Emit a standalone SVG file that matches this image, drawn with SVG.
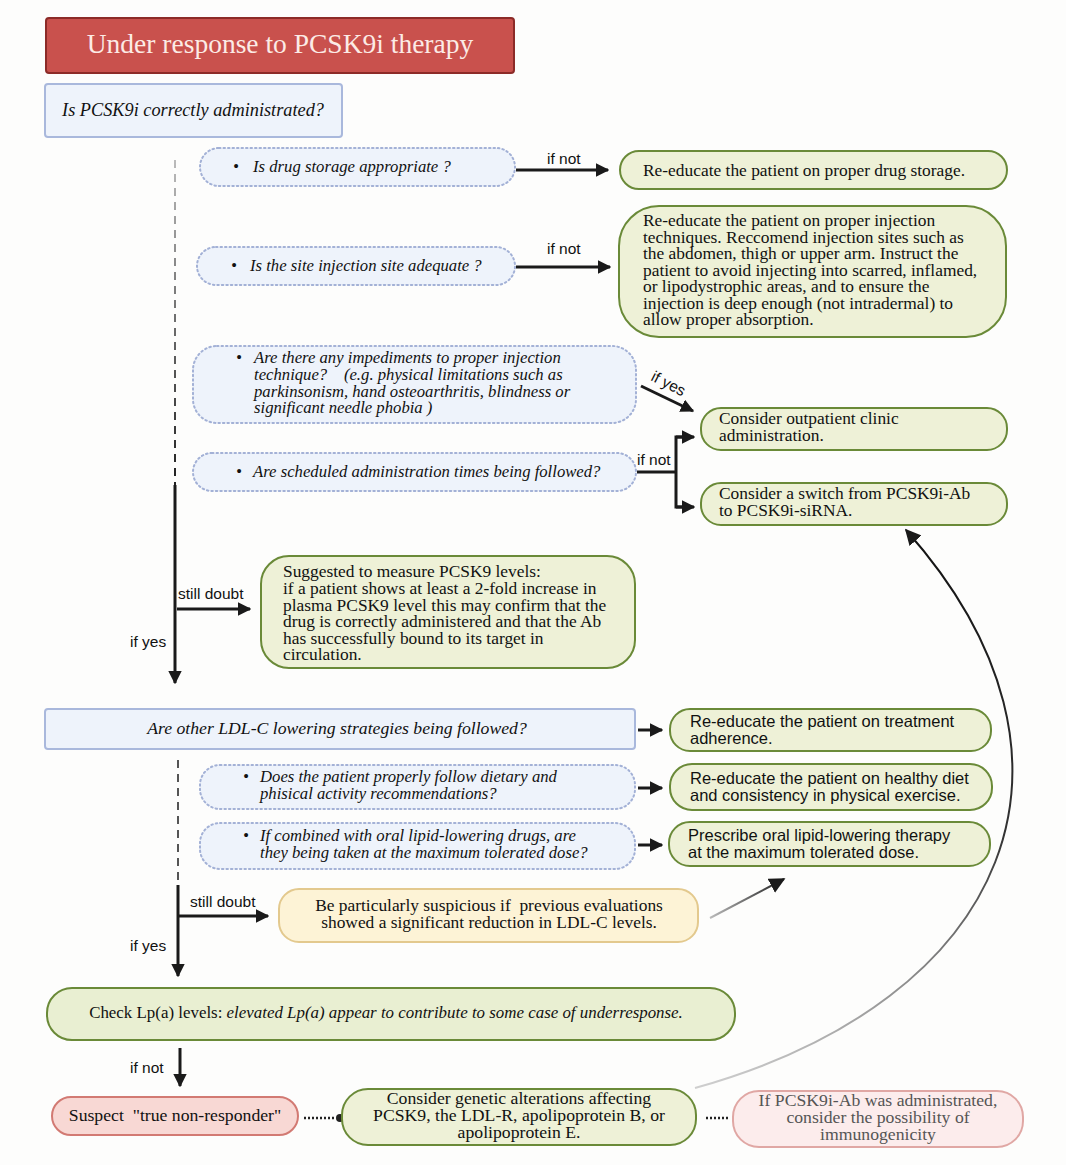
<svg xmlns="http://www.w3.org/2000/svg" width="1066" height="1165" viewBox="0 0 1066 1165">
<defs>
<style>
.serif{font-family:"Liberation Serif","Times New Roman",serif;font-size:17.4px;fill:#111}
.it{font-family:"Liberation Serif","Times New Roman",serif;font-style:italic;font-size:16.7px;fill:#111;white-space:pre}
.sans{font-family:"Liberation Sans",Arial,sans-serif;font-size:15.5px;fill:#111}
.sans16{font-family:"Liberation Sans",Arial,sans-serif;font-size:16.5px;fill:#111}
.bot{font-family:"Liberation Serif","Times New Roman",serif;font-size:17.7px;fill:#111}
.q{fill:#eef3fb;stroke:#a9b8dc;stroke-width:2}
.dq{fill:#eef3fb;stroke:#a3b1d6;stroke-width:2;stroke-dasharray:1.5 3;stroke-linecap:round}
.g{fill:#eef1d7;stroke:#6a8a38;stroke-width:2}
.ln{stroke:#1a1a1a;stroke-width:3;fill:none}
.dot{stroke:#222;stroke-width:2.5;fill:none;stroke-dasharray:2 2}
</style>
<marker id="ah" viewBox="0 0 10 10" refX="9" refY="5" markerWidth="4.5" markerHeight="4.5" orient="auto" markerUnits="strokeWidth"><path d="M0,0 L10,5 L0,10 z" fill="#1a1a1a"/></marker>
<marker id="ah2" viewBox="0 0 10 10" refX="9" refY="5" markerWidth="8" markerHeight="8" orient="auto" markerUnits="strokeWidth"><path d="M0,0 L10,5 L0,10 z" fill="#1a1a1a"/></marker>
<linearGradient id="vfade1" gradientUnits="userSpaceOnUse" x1="0" y1="160" x2="0" y2="690"><stop offset="0" stop-color="#bbb"/><stop offset="0.6" stop-color="#222"/><stop offset="1" stop-color="#111"/></linearGradient>
<linearGradient id="cfade" gradientUnits="userSpaceOnUse" x1="0" y1="1090" x2="0" y2="525"><stop offset="0" stop-color="#d0d0d0"/><stop offset="0.45" stop-color="#333"/><stop offset="1" stop-color="#111"/></linearGradient>
<linearGradient id="sfade" gradientUnits="userSpaceOnUse" x1="710" y1="0" x2="790" y2="0"><stop offset="0" stop-color="#bbb"/><stop offset="1" stop-color="#111"/></linearGradient>
</defs>
<rect x="0" y="0" width="1066" height="1165" fill="#fdfdfc"/>

<g id="connectors">
<line x1="175" y1="160" x2="175" y2="485" stroke="url(#vfade1)" stroke-width="2" stroke-dasharray="8 6"/>
<line x1="175" y1="485" x2="175" y2="683" class="ln" marker-end="url(#ah)"/>
<line x1="177" y1="609" x2="250" y2="609" class="ln" marker-end="url(#ah)"/>
<line x1="516" y1="170" x2="608" y2="170" class="ln" marker-end="url(#ah)"/>
<line x1="516" y1="267" x2="610" y2="267" class="ln" marker-end="url(#ah)"/>
<line x1="641" y1="386" x2="693" y2="411" class="ln" marker-end="url(#ah)"/>
<polyline points="637,472 676,472" class="ln"/>
<polyline points="686,437 676,437 676,507 686,507" class="ln"/>
<line x1="676" y1="437" x2="694" y2="437" class="ln" marker-end="url(#ah)"/>
<line x1="676" y1="507" x2="694" y2="507" class="ln" marker-end="url(#ah)"/>
<line x1="638" y1="730" x2="662" y2="730" class="ln" marker-end="url(#ah)"/>
<line x1="638" y1="788" x2="662" y2="788" class="ln" marker-end="url(#ah)"/>
<line x1="638" y1="845" x2="662" y2="845" class="ln" marker-end="url(#ah)"/>
<line x1="178" y1="760" x2="178" y2="890" stroke="#555" stroke-width="2" stroke-dasharray="8 6"/>
<line x1="178" y1="885" x2="178" y2="976" class="ln" marker-end="url(#ah)"/>
<line x1="178" y1="916" x2="268" y2="916" class="ln" marker-end="url(#ah)"/>
<line x1="710" y1="918" x2="784" y2="879" stroke="url(#sfade)" stroke-width="2" marker-end="url(#ah2)"/>
<line x1="180" y1="1048" x2="180" y2="1086" class="ln" marker-end="url(#ah)"/>
<line x1="304" y1="1118" x2="336" y2="1118" class="dot"/>
<circle cx="340" cy="1118" r="4" fill="#222"/>
<line x1="706" y1="1118" x2="728" y2="1118" class="dot"/>
<path d="M695,1088 C1010,1000 1110,760 906,530" stroke="url(#cfade)" stroke-width="2" fill="none" marker-end="url(#ah2)"/>
<text x="547" y="164" class="sans">if not</text>
<text x="547" y="254" class="sans">if not</text>
<text x="0" y="0" class="sans" transform="translate(650,380) rotate(27)">if yes</text>
<text x="637" y="465" class="sans">if not</text>
<text x="178" y="599" class="sans">still doubt</text>
<text x="130" y="647" class="sans">if yes</text>
<text x="190" y="907" class="sans">still doubt</text>
<text x="130" y="951" class="sans">if yes</text>
<text x="130" y="1073" class="sans">if not</text>
</g>

<g id="title">
<rect x="46" y="18" width="468" height="55" rx="3" fill="#c9514d" stroke="#8c2b28" stroke-width="2"/>
<text x="280" y="53" text-anchor="middle" font-family="Liberation Serif,serif" font-size="27.5" fill="#fcebe6">Under response to PCSK9i therapy</text>
</g>

<g id="q1">
<rect x="45" y="84" width="297" height="53" rx="3" class="q"/>
<text x="193" y="116" text-anchor="middle" class="it" style="font-size:18.3px">Is PCSK9i correctly administrated?</text>
</g>

<g id="q1a">
<rect x="200" y="148" width="315" height="38" rx="19" class="dq"/>
<text y="172" class="it"><tspan x="233">•</tspan><tspan x="253">Is drug storage appropriate ?</tspan></text>
</g>
<g id="q1b">
<rect x="197" y="247" width="318" height="38" rx="19" class="dq"/>
<text y="271" class="it"><tspan x="231">•</tspan><tspan x="250">Is the site injection site adequate ?</tspan></text>
</g>
<g id="q1c">
<rect x="193" y="346" width="443" height="77" rx="24" class="dq"/>
<text class="it"><tspan x="236" y="363">•</tspan><tspan x="254" y="363">Are there any impediments to proper injection</tspan><tspan x="254" y="380">technique?    (e.g. physical limitations such as</tspan><tspan x="254" y="397">parkinsonism, hand osteoarthritis, blindness or</tspan><tspan x="254" y="413">significant needle phobia )</tspan></text>
</g>
<g id="q1d">
<rect x="193" y="453" width="443" height="38" rx="19" class="dq"/>
<text y="477" class="it"><tspan x="236">•</tspan><tspan x="253">Are scheduled administration times being followed?</tspan></text>
</g>

<g id="a1">
<rect x="620" y="151" width="387" height="38" rx="19" class="g"/>
<text x="643" y="176" class="serif">Re-educate the patient on proper drug storage.</text>
</g>
<g id="a2">
<rect x="619" y="206" width="387" height="131" rx="40" class="g"/>
<text class="serif"><tspan x="643" y="226">Re-educate the patient on proper injection</tspan><tspan x="643" y="243">techniques. Reccomend injection sites such as</tspan><tspan x="643" y="259">the abdomen, thigh or upper arm. Instruct the</tspan><tspan x="643" y="276">patient to avoid injecting into scarred, inflamed,</tspan><tspan x="643" y="292">or lipodystrophic areas, and to ensure the</tspan><tspan x="643" y="309">injection is deep enough (not intradermal) to</tspan><tspan x="643" y="325">allow proper absorption.</tspan></text>
</g>
<g id="a3">
<rect x="701" y="408" width="306" height="42" rx="20" class="g"/>
<text class="serif"><tspan x="719" y="424">Consider outpatient clinic</tspan><tspan x="719" y="441">administration.</tspan></text>
</g>
<g id="a4">
<rect x="701" y="483" width="306" height="42" rx="20" class="g"/>
<text class="serif"><tspan x="719" y="499">Consider a switch from PCSK9i-Ab</tspan><tspan x="719" y="516">to PCSK9i-siRNA.</tspan></text>
</g>
<g id="a5">
<rect x="261" y="556" width="374" height="112" rx="28" class="g"/>
<text class="serif"><tspan x="283" y="577">Suggested to measure PCSK9 levels:</tspan><tspan x="283" y="594">if a patient shows at least a 2-fold increase in</tspan><tspan x="283" y="611">plasma PCSK9 level this may confirm that the</tspan><tspan x="283" y="627">drug is correctly administered and that the Ab</tspan><tspan x="283" y="644">has successfully bound to its target in</tspan><tspan x="283" y="660">circulation.</tspan></text>
</g>

<g id="q2">
<rect x="45" y="709" width="590" height="40" rx="3" class="q"/>
<text x="337" y="734" text-anchor="middle" class="it" style="font-size:17.7px">Are other LDL-C lowering strategies being followed?</text>
</g>
<g id="q2a">
<rect x="200" y="765" width="435" height="44" rx="20" class="dq"/>
<text class="it"><tspan x="243" y="782">•</tspan><tspan x="260" y="782">Does the patient properly follow dietary and</tspan><tspan x="260" y="799">phisical activity recommendations?</tspan></text>
</g>
<g id="q2b">
<rect x="200" y="823" width="435" height="46" rx="20" class="dq"/>
<text class="it"><tspan x="243" y="841">•</tspan><tspan x="260" y="841">If combined with oral lipid-lowering drugs, are</tspan><tspan x="260" y="858">they being taken at the maximum tolerated dose?</tspan></text>
</g>

<g id="b1">
<rect x="670" y="709" width="321" height="42" rx="20" class="g"/>
<text class="sans16"><tspan x="690" y="727">Re-educate the patient on treatment</tspan><tspan x="690" y="744">adherence.</tspan></text>
</g>
<g id="b2">
<rect x="670" y="764" width="322" height="46" rx="22" class="g"/>
<text class="sans16"><tspan x="690" y="784">Re-educate the patient on healthy diet</tspan><tspan x="690" y="801">and consistency in physical exercise.</tspan></text>
</g>
<g id="b3">
<rect x="669" y="822" width="321" height="44" rx="21" class="g"/>
<text class="sans16"><tspan x="688" y="841">Prescribe oral lipid-lowering therapy</tspan><tspan x="688" y="858">at the maximum tolerated dose.</tspan></text>
</g>

<g id="b4">
<rect x="279" y="889" width="419" height="53" rx="20" fill="#fdf3d6" stroke="#e3c98e" stroke-width="2"/>
<text class="serif" text-anchor="middle" style="white-space:pre"><tspan x="489" y="911">Be particularly suspicious if  previous evaluations</tspan><tspan x="489" y="928">showed a significant reduction in LDL-C levels.</tspan></text>
</g>

<g id="lpa">
<rect x="47" y="988" width="688" height="52" rx="25" fill="#e9efd2" stroke="#6a8a38" stroke-width="2"/>
<text x="386" y="1018" text-anchor="middle" class="serif" style="font-size:16.9px">Check Lp(a) levels: <tspan font-style="italic">elevated Lp(a) appear to contribute to some case of underresponse.</tspan></text>
</g>

<g id="suspect">
<rect x="52" y="1097" width="246" height="38" rx="19" fill="#f8d8d4" stroke="#d27a73" stroke-width="2"/>
<text x="175" y="1121" text-anchor="middle" class="bot" style="white-space:pre">Suspect  "true non-responder"</text>
</g>
<g id="genetic">
<rect x="342" y="1089" width="354" height="56" rx="26" class="g"/>
<text class="bot" text-anchor="middle"><tspan x="519" y="1104">Consider genetic alterations affecting</tspan><tspan x="519" y="1121">PCSK9, the LDL-R, apolipoprotein B, or</tspan><tspan x="519" y="1138">apolipoprotein E.</tspan></text>
</g>
<g id="immuno">
<rect x="733" y="1091" width="290" height="56" rx="26" fill="#fcecec" stroke="#e0a7a4" stroke-width="2"/>
<text class="bot" text-anchor="middle" style="fill:#555"><tspan x="878" y="1106">If PCSK9i-Ab was administrated,</tspan><tspan x="878" y="1123">consider the possibility of</tspan><tspan x="878" y="1140">immunogenicity</tspan></text>
</g>
</svg>
